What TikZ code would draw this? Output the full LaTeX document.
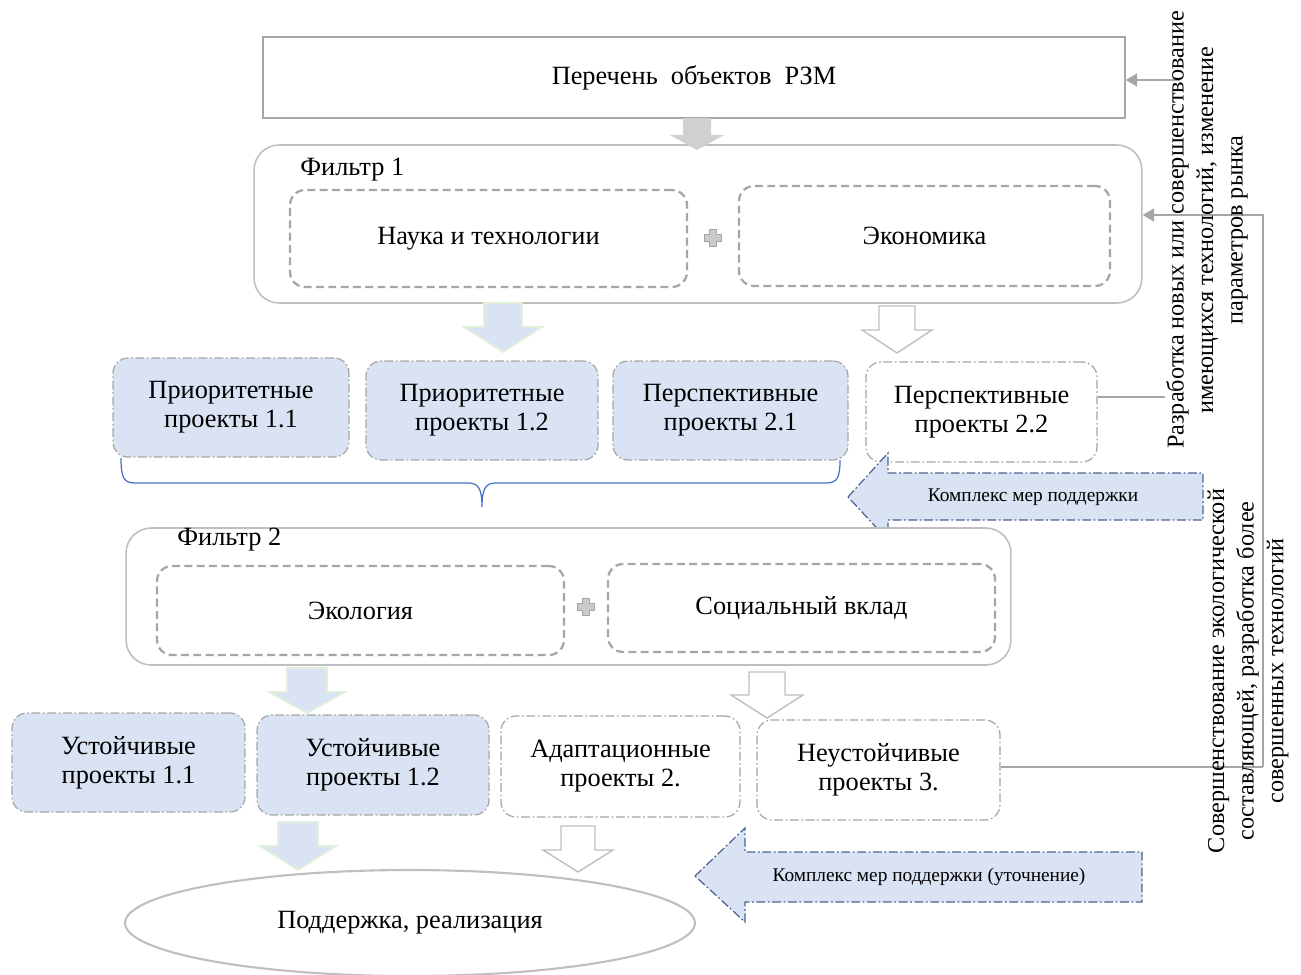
\documentclass[tikz,border=0pt]{standalone}
\usepackage{fontspec}
\setmainfont{Liberation Serif}
\usepackage{tikz}
\usepackage{xcolor}
\usetikzlibrary{arrows}
\usetikzlibrary{arrows.meta}
\usetikzlibrary{positioning}
\usetikzlibrary{shapes.geometric}

\definecolor{boxblue}{HTML}{DAE3F3}
\definecolor{linegray}{HTML}{A6A6A6}
\definecolor{framegray}{HTML}{BFBFBF}
\definecolor{arrowgray}{HTML}{D0D0D0}
\definecolor{bracketblue}{HTML}{4472C4}
\definecolor{supportedge}{HTML}{4A6491}
\definecolor{paleedge}{HTML}{E2EFDA}

\tikzset{
	maintext/.style={font=\fontsize{15}{16.5}\selectfont, align=center, inner sep=0pt},
	listbox/.style={draw=linegray, fill=white, line width=0.9pt, maintext},
	filterbox/.style={draw=framegray, fill=white, rounded corners=0.5cm, line width=0.9pt},
	criterion/.style={draw=linegray, dash pattern=on 4.5pt off 2.5pt, line width=1.3pt, rounded corners=0.3cm, maintext},
	project/.style={draw=linegray, dash pattern=on 5pt off 1.5pt on 1pt off 1.5pt, line width=0.7pt, rounded corners=0.3cm, maintext},
	plussign/.style={fill=linegray!60, draw=linegray, line width=0.4pt},
	bluearrow/.style={fill=boxblue, draw=paleedge, line width=1pt},
	whitearrow/.style={fill=white, draw=framegray, line width=0.8pt},
	grayarrow/.style={fill=arrowgray, draw=none},
	support/.style={fill=boxblue, draw=supportedge, dash pattern=on 5pt off 1.5pt on 1pt off 1.5pt, line width=0.7pt},
	supporttext/.style={font=\fontsize{11}{13}\selectfont, inner sep=0pt},
	sidetext/.style={font=\fontsize{13.8}{16.8}\selectfont, align=center, rotate=90, inner sep=0pt},
	bracket/.style={draw=bracketblue, line width=0.7pt},
	link/.style={draw=linegray, line width=0.7pt, -{Triangle[length=6.5pt, width=7.5pt]}},
	plainlink/.style={draw=linegray, line width=0.7pt}
}

\begin{document}
\begin{tikzpicture}[x=0.02cm, y=-0.02cm]
	\useasboundingbox (0,0) rectangle (1301,974);
	
	% list of objects
	\node[listbox, minimum width=17.24cm, minimum height=1.62cm] (list) at (694,77.5) {Перечень\ \ объектов\ \ РЗМ};
	
	% filter 1
	\node[filterbox, minimum width=17.76cm, minimum height=3.16cm] (filterA) at (698,224) {};
	\node[maintext, anchor=west] (filterAlabel) at (300,170) {Фильтр 1};
	\node[criterion, minimum width=7.94cm, minimum height=1.94cm] (science) at (488.5,238.5) {Наука и технологии};
	\node[criterion, minimum width=7.42cm, minimum height=2cm] (economy) at (924.5,236) {Экономика};
	\begin{scope}[shift={(713,238)}]
		\draw[plussign] (-3.5,-8.5) -- (3.5,-8.5) -- (3.5,-3.5) -- (8.5,-3.5) -- (8.5,3.5) -- (3.5,3.5) -- (3.5,8.5)
			-- (-3.5,8.5) -- (-3.5,3.5) -- (-8.5,3.5) -- (-8.5,-3.5) -- (-3.5,-3.5) -- cycle;
	\end{scope}
	
	\begin{scope}[shift={(697,118)}]
		\draw[grayarrow] (-14,0) -- (14,0) -- (14,17) -- (27,17) -- (0,32) -- (-27,17) -- (-14,17) -- cycle;
	\end{scope}
	
	\begin{scope}[shift={(503,303)}]
		\draw[bluearrow] (-19,0) -- (19,0) -- (19,24) -- (39,24) -- (0,49) -- (-39,24) -- (-19,24) -- cycle;
	\end{scope}
	
	\begin{scope}[shift={(897,306)}]
		\draw[whitearrow] (-18,0) -- (18,0) -- (18,24) -- (35,24) -- (0,47) -- (-35,24) -- (-18,24) -- cycle;
	\end{scope}
	
	% projects after filter 1
	\node[project, fill=boxblue, minimum width=4.72cm, minimum height=1.98cm] (prioA) at (231,407.5) {Приоритетные\\проекты 1.1};
	\node[project, fill=boxblue, minimum width=4.64cm, minimum height=1.98cm] (prioB) at (482,410.5) {Приоритетные\\проекты 1.2};
	\node[project, fill=boxblue, minimum width=4.7cm, minimum height=1.98cm] (perspA) at (730.5,410.5) {Перспективные\\проекты 2.1};
	\node[project, fill=white, minimum width=4.62cm, minimum height=2cm] (perspB) at (981.5,412) {Перспективные\\проекты 2.2};
	
	\draw[bracket] (121,458) .. controls (121,478) and (124,483) .. (135,483) -- (468,483)
		.. controls (478,483) and (482,488) .. (482,507)
		.. controls (482,488) and (486,483) .. (496,483) -- (826,483)
		.. controls (837,483) and (840,478) .. (840,460);
	
	\draw[support] (848,497) -- (888,453) -- (888,473) -- (1203,473) -- (1203,520) -- (888,520) -- (888,540) -- cycle;
	\node[supporttext] (supportA) at (1033,497) {Комплекс мер поддержки};
	
	% filter 2
	\node[filterbox, minimum width=17.7cm, minimum height=2.74cm] (filterB) at (568.5,596.5) {};
	\node[maintext, anchor=west] (filterBlabel) at (177,540) {Фильтр 2};
	\node[criterion, minimum width=8.14cm, minimum height=1.78cm] (ecology) at (360.5,610.5) {Экология};
	\node[criterion, minimum width=7.74cm, minimum height=1.76cm] (social) at (801.5,608) {Социальный вклад};
	\begin{scope}[shift={(586,607)}]
		\draw[plussign] (-3.5,-8.5) -- (3.5,-8.5) -- (3.5,-3.5) -- (8.5,-3.5) -- (8.5,3.5) -- (3.5,3.5) -- (3.5,8.5)
			-- (-3.5,8.5) -- (-3.5,3.5) -- (-8.5,3.5) -- (-8.5,-3.5) -- (-3.5,-3.5) -- cycle;
	\end{scope}
	
	\begin{scope}[shift={(307,668)}]
		\draw[bluearrow] (-20,0) -- (20,0) -- (20,24) -- (38,24) -- (0,45) -- (-38,24) -- (-20,24) -- cycle;
	\end{scope}
	
	\begin{scope}[shift={(767,672)}]
		\draw[whitearrow] (-18,0) -- (18,0) -- (18,23) -- (36,23) -- (0,46) -- (-36,23) -- (-18,23) -- cycle;
	\end{scope}
	
	% projects after filter 2
	\node[project, fill=boxblue, minimum width=4.66cm, minimum height=1.98cm] (stableA) at (128.5,762.5) {Устойчивые\\проекты 1.1};
	\node[project, fill=boxblue, minimum width=4.64cm, minimum height=2cm] (stableB) at (373,765) {Устойчивые\\проекты 1.2};
	\node[project, fill=white, minimum width=4.78cm, minimum height=2.02cm] (adaptive) at (620.5,766.5) {Адаптационные\\проекты 2.};
	\node[project, fill=white, minimum width=4.86cm, minimum height=2cm] (unstable) at (878.5,770) {Неустойчивые\\проекты 3.};
	
	\begin{scope}[shift={(298,822)}]
		\draw[bluearrow] (-20,0) -- (20,0) -- (20,24) -- (38,24) -- (0,48) -- (-38,24) -- (-20,24) -- cycle;
	\end{scope}
	
	\begin{scope}[shift={(578,826)}]
		\draw[whitearrow] (-17,0) -- (17,0) -- (17,24) -- (35,24) -- (0,46) -- (-35,24) -- (-17,24) -- cycle;
	\end{scope}
	
	\draw[support] (695,876) -- (745,828) -- (745,852) -- (1142,852) -- (1142,902) -- (745,902) -- (745,922) -- cycle;
	\node[supporttext] (supportB) at (929,877) {Комплекс мер поддержки (уточнение)};
	
	\node[ellipse, draw=framegray, line width=1.2pt, fill=white, minimum width=11.4cm, minimum height=2.12cm, maintext] (realization) at (410,923) {Поддержка, реализация};
	
	% side notes and feedback lines
	\coordinate (sideTop) at (1180,80);
	\coordinate (sideMid) at (1165,397);
	\coordinate (loopTop) at (1263,215);
	\coordinate (loopBottom) at (1263,767);
	\draw[link] (sideTop) -- (list.east |- sideTop);
	\draw[link] (loopBottom) -- (loopTop) -- (filterA.east |- loopTop);
	\draw[plainlink] (loopBottom) -- (unstable.east |- loopBottom);
	\draw[plainlink] (perspB.east |- sideMid) -- (sideMid);
	
	\node[sidetext] (noteMarket) at (1207,230) {Разработка новых или совершенствование\\имеющихся технологий, изменение\\параметров рынка};
	\node[sidetext] (noteEcology) at (1248,671) {Совершенствование экологической\\составляющей, разработка более\\совершенных технологий};
\end{tikzpicture}
\end{document}
